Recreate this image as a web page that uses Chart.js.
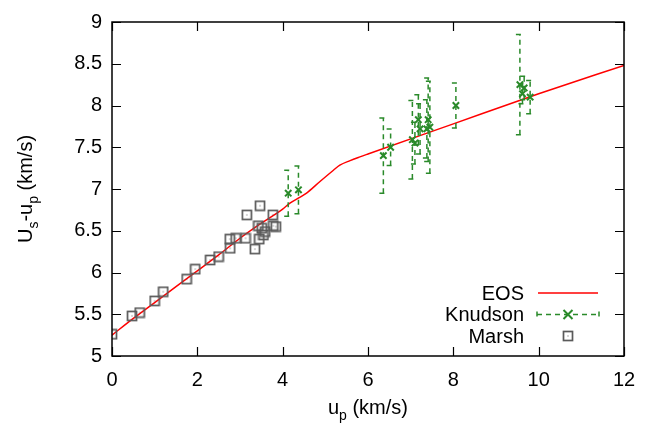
<!DOCTYPE html>
<html><head><meta charset="utf-8">
<script src="https://cdn.jsdelivr.net/npm/chart.js@4/dist/chart.umd.min.js"></script>
<style>html,body{margin:0;padding:0;background:#fff;}#wrap{width:653px;height:427px;}</style>
</head><body><div id="wrap"><canvas id="c" width="653" height="427"></canvas></div>
<script>
// ---- data ----
const xTickValues = [0, 2, 4, 6, 8, 10, 12];
const xTickLabels = ['0', '2', '4', '6', '8', '10', '12'];
const yTickValues = [5, 5.5, 6, 6.5, 7, 7.5, 8, 8.5, 9];
const yTickLabels = ['5', '5.5', '6', '6.5', '7', '7.5', '8', '8.5', '9'];
const seriesNames = ['EOS', 'Knudson', 'Marsh'];

const eosX = [0, 0.5, 1, 1.5, 2, 2.5, 3, 3.5, 4, 4.17, 4.4, 4.56, 4.875, 5.19, 5.34, 5.58, 5.81, 6, 8, 10, 12];
const eosY = [5.25, 5.45, 5.64, 5.83, 6.02, 6.21, 6.41, 6.59, 6.76, 6.83, 6.90, 6.95, 7.09, 7.225, 7.285, 7.34, 7.385, 7.42, 7.78, 8.14, 8.48];

const knudsonX = [4.13, 4.37, 6.36, 6.53, 7.04, 7.10, 7.18, 7.22, 7.38, 7.41, 7.45, 8.06, 9.56, 9.62, 9.66, 9.80];
const knudsonY = [6.95, 6.99, 7.40, 7.50, 7.59, 7.55, 7.83, 7.72, 7.72, 7.83, 7.74, 8.00, 8.25, 8.14, 8.21, 8.10];
const knudsonErr = [0.275, 0.285, 0.45, 0.22, 0.47, 0.25, 0.30, 0.30, 0.35, 0.50, 0.55, 0.27, 0.60, 0.12, 0.14, 0.20];

const marshX = [0.0, 0.47, 0.65, 1.0, 1.2, 1.75, 1.95, 2.3, 2.5, 2.77, 2.76, 2.9, 3.13, 3.16, 3.35, 3.45, 3.43, 3.47, 3.51, 3.55, 3.59, 3.77, 3.78, 3.84];
const marshY = [5.26, 5.48, 5.52, 5.66, 5.77, 5.92, 6.04, 6.15, 6.19, 6.29, 6.40, 6.41, 6.41, 6.69, 6.28, 6.40, 6.56, 6.80, 6.53, 6.45, 6.49, 6.69, 6.56, 6.55];

// ---- styles ----
const FONT = "'Liberation Sans', Arial, Helvetica, sans-serif";
const FS = 20, SUB = 14, SUBOFF = 6;
const GREEN = '#2a8a2a';
const RED = '#ff0000';
const GRAY = '#5a5a5a';
const DASH = [5, 4];

function makeBoxDot() {
  const c = document.createElement('canvas');
  c.width = 12; c.height = 12;
  const g = c.getContext('2d');
  g.strokeStyle = GRAY; g.lineWidth = 1.7;
  g.strokeRect(1.5, 1.5, 9, 9);
  g.fillStyle = GRAY;
  g.fillRect(5.5, 5.5, 1, 1);
  return c;
}
const boxDot = makeBoxDot();

function pts(xs, ys) { return xs.map((x, i) => ({ x: x, y: ys[i] })); }

function drawRich(ctx, parts, x, y) {
  let total = 0;
  parts.forEach(p => { ctx.font = (p.sub ? SUB : FS) + 'px ' + FONT; p.w = ctx.measureText(p.t).width; total += p.w; });
  let cx = x - total / 2;
  ctx.textBaseline = 'alphabetic';
  ctx.textAlign = 'left';
  parts.forEach(p => {
    ctx.font = (p.sub ? SUB : FS) + 'px ' + FONT;
    ctx.fillText(p.t, cx, y + (p.sub ? SUBOFF : 0));
    cx += p.w;
  });
}

function drawCross(ctx, x, y, r) {
  ctx.beginPath();
  ctx.moveTo(x - r, y - r); ctx.lineTo(x + r, y + r);
  ctx.moveTo(x - r, y + r); ctx.lineTo(x + r, y - r);
  ctx.stroke();
}

const decorPlugin = {
  id: 'decor',
  afterDatasetDraw(chart, args) {
    if (args.index !== 1) return;
    const ctx = chart.ctx, xs = chart.scales.x, ys = chart.scales.y;
    ctx.save();
    ctx.strokeStyle = GREEN; ctx.lineWidth = 1.5; ctx.setLineDash(DASH);
    knudsonX.forEach((xv, i) => {
      const px = xs.getPixelForValue(xv);
      const top = ys.getPixelForValue(knudsonY[i] + knudsonErr[i]);
      const bot = ys.getPixelForValue(knudsonY[i] - knudsonErr[i]);
      ctx.beginPath();
      ctx.moveTo(px, bot); ctx.lineTo(px, top);
      ctx.moveTo(px - 4, top); ctx.lineTo(px + 4, top);
      ctx.moveTo(px - 4, bot); ctx.lineTo(px + 4, bot);
      ctx.stroke();
    });
    ctx.restore();
  },
  afterDraw(chart) {
    const ctx = chart.ctx, a = chart.chartArea, xs = chart.scales.x, ys = chart.scales.y;
    ctx.save();
    // frame
    ctx.strokeStyle = '#000'; ctx.lineWidth = 1.5; ctx.setLineDash([]);
    ctx.strokeRect(a.left, a.top, a.right - a.left, a.bottom - a.top);
    // inward mirrored ticks
    const TL = 9;
    ctx.beginPath();
    xTickValues.forEach(v => {
      const px = Math.round(xs.getPixelForValue(v)) + 0.5;
      ctx.moveTo(px, a.bottom); ctx.lineTo(px, a.bottom - TL);
      ctx.moveTo(px, a.top); ctx.lineTo(px, a.top + TL);
    });
    yTickValues.forEach(v => {
      const py = Math.round(ys.getPixelForValue(v)) + 0.5;
      ctx.moveTo(a.left, py); ctx.lineTo(a.left + TL, py);
      ctx.moveTo(a.right, py); ctx.lineTo(a.right - TL, py);
    });
    ctx.lineWidth = 1.2;
    ctx.stroke();

    // axis titles
    ctx.fillStyle = '#000';
    drawRich(ctx, [{ t: 'u' }, { t: 'p', sub: true }, { t: ' (km/s)' }], (a.left + a.right) / 2, 414);
    ctx.save();
    ctx.translate(32, (a.top + a.bottom) / 2);
    ctx.rotate(-Math.PI / 2);
    drawRich(ctx, [{ t: 'U' }, { t: 's', sub: true }, { t: '-u' }, { t: 'p', sub: true }, { t: ' (km/s)' }], 0, 0);
    ctx.restore();

    // legend
    const tx = 524, rows = [293, 314.5, 336];
    ctx.font = FS + 'px ' + FONT; ctx.textAlign = 'right'; ctx.textBaseline = 'middle'; ctx.fillStyle = '#000';
    seriesNames.forEach((n, i) => ctx.fillText(n, tx, rows[i] + 1));
    // EOS sample
    ctx.strokeStyle = RED; ctx.lineWidth = 1.5;
    ctx.beginPath(); ctx.moveTo(538, rows[0]); ctx.lineTo(598, rows[0]); ctx.stroke();
    // Knudson sample
    ctx.strokeStyle = GREEN; ctx.lineWidth = 1.5; ctx.setLineDash(DASH);
    ctx.beginPath(); ctx.moveTo(537, rows[1]); ctx.lineTo(599, rows[1]);
    ctx.moveTo(537, rows[1] - 3); ctx.lineTo(537, rows[1] + 3);
    ctx.moveTo(599, rows[1] - 3); ctx.lineTo(599, rows[1] + 3);
    ctx.stroke();
    ctx.setLineDash([]); ctx.lineWidth = 2;
    drawCross(ctx, 568, rows[1], 4.5);
    // Marsh sample
    ctx.drawImage(boxDot, 568 - 6, Math.round(rows[2]) - 6);
    ctx.restore();
  }
};

new Chart(document.getElementById('c'), {
  type: 'scatter',
  data: {
    datasets: [
      { label: seriesNames[0], data: pts(eosX, eosY), showLine: true, borderColor: RED, borderWidth: 1.5, pointRadius: 0, cubicInterpolationMode: 'monotone', order: 3 },
      { label: seriesNames[1], data: pts(knudsonX, knudsonY), showLine: false, borderColor: GREEN, backgroundColor: GREEN, pointStyle: 'crossRot', pointRadius: 4.5, borderWidth: 2, order: 2 },
      { label: seriesNames[2], data: pts(marshX, marshY), showLine: false, pointStyle: boxDot, pointRadius: 5, order: 1 }
    ]
  },
  options: {
    responsive: false,
    devicePixelRatio: 1,
    animation: false,
    events: [],
    layout: { padding: { left: 0, right: 29, top: 16, bottom: 0 } },
    plugins: { legend: { display: false }, tooltip: { enabled: false } },
    scales: {
      x: {
        type: 'linear', min: 0, max: 12, offset: false,
        grid: { display: false, drawTicks: false }, border: { display: false },
        afterBuildTicks: s => { s.ticks = xTickValues.map(v => ({ value: v })); },
        afterFit: s => { s.height = 71; },
        ticks: { color: '#000', font: { family: FONT, size: FS }, padding: 12, maxRotation: 0, autoSkip: false,
          callback: (v, i) => xTickLabels[i] }
      },
      y: {
        type: 'linear', min: 5, max: 9,
        grid: { display: false, drawTicks: false }, border: { display: false },
        afterBuildTicks: s => { s.ticks = yTickValues.map(v => ({ value: v })); },
        afterFit: s => { s.width = 112; },
        ticks: { color: '#000', font: { family: FONT, size: FS }, padding: 10, autoSkip: false,
          callback: (v, i) => yTickLabels[i] }
      }
    }
  },
  plugins: [decorPlugin]
});
</script></body></html>
